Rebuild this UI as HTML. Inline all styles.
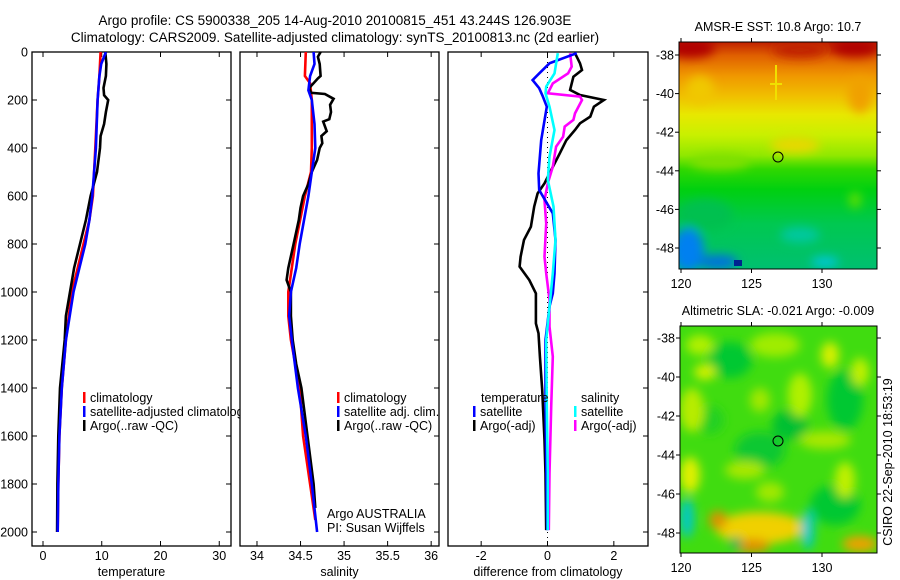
<!DOCTYPE html>
<html><head><meta charset="utf-8">
<style>
body{margin:0;background:#fff;}
svg{display:block;font-family:"Liberation Sans",sans-serif;}
</style></head>
<body>
<svg id="fig" width="900" height="580" viewBox="0 0 900 580">
<defs>
<clipPath id="c1"><rect x="32" y="52" width="208" height="494"/></clipPath>
<clipPath id="cp1"><rect x="32" y="52" width="199" height="494"/></clipPath>
<clipPath id="cp2"><rect x="240" y="52" width="199" height="494"/></clipPath>
<clipPath id="cp3"><rect x="448" y="52" width="200" height="494"/></clipPath>
<clipPath id="cm1"><rect x="679" y="42" width="198" height="227"/></clipPath>
<clipPath id="cm2"><rect x="680" y="326" width="197" height="227"/></clipPath>
<linearGradient id="sstg" x1="0" y1="42" x2="0" y2="269" gradientUnits="userSpaceOnUse">
<stop offset="0" stop-color="#c02000"/><stop offset="0.06" stop-color="#e06000"/>
<stop offset="0.15" stop-color="#f09800"/><stop offset="0.24" stop-color="#f0c000"/>
<stop offset="0.32" stop-color="#e8e800"/><stop offset="0.41" stop-color="#c8f000"/>
<stop offset="0.5" stop-color="#90e800"/><stop offset="0.56" stop-color="#30d800"/>
<stop offset="0.65" stop-color="#00d010"/><stop offset="0.8" stop-color="#00c850"/>
<stop offset="1" stop-color="#00c070"/>
</linearGradient>
<filter id="bl" x="-20%" y="-20%" width="140%" height="140%"><feGaussianBlur stdDeviation="5"/></filter>
</defs>

<text x="335" y="25" font-size="13.5" text-anchor="middle">Argo profile: CS 5900338_205 14-Aug-2010 20100815_451 43.244S 126.903E</text>
<text x="335" y="42" font-size="13.5" text-anchor="middle">Climatology: CARS2009. Satellite-adjusted climatology: synTS_20100813.nc (2d earlier)</text>

<g id="panels"></g>

<!-- SST map -->
<g>
<g clip-path="url(#cm1)">
<rect x="679" y="42" width="198" height="227" fill="url(#sstg)"/>
<g filter="url(#bl)">
<ellipse cx="690" cy="48" rx="25" ry="10" fill="#b00000"/>
<ellipse cx="855" cy="48" rx="25" ry="9" fill="#b00000"/>
<ellipse cx="800" cy="50" rx="28" ry="8" fill="#c02000"/>
<ellipse cx="860" cy="95" rx="12" ry="18" fill="#f0a000"/>
<ellipse cx="700" cy="90" rx="14" ry="14" fill="#f0c800"/>
<ellipse cx="795" cy="145" rx="25" ry="8" fill="#e8d800"/>
<ellipse cx="720" cy="162" rx="30" ry="8" fill="#80e000"/>
<ellipse cx="705" cy="215" rx="28" ry="16" fill="#00c050"/>
<ellipse cx="688" cy="250" rx="16" ry="22" fill="#0080f0"/>
<ellipse cx="718" cy="262" rx="20" ry="7" fill="#0070e0"/>
<ellipse cx="825" cy="262" rx="14" ry="5" fill="#00c8e0"/>
<ellipse cx="855" cy="200" rx="6" ry="8" fill="#60e000"/>
<ellipse cx="800" cy="235" rx="20" ry="8" fill="#00c8a0"/>
</g>
<rect x="734" y="260" width="8" height="6" fill="#000090" opacity="0.8"/>
<line x1="776" y1="65" x2="776" y2="100" stroke="#f0e000" stroke-width="2"/>
<line x1="770" y1="84" x2="782" y2="84" stroke="#f0e000" stroke-width="2"/>
</g>
<rect x="679" y="42" width="198" height="227" fill="none" stroke="#000" stroke-width="1"/>
<circle cx="778" cy="157" r="5" fill="none" stroke="#000"/>
<text x="778" y="31" font-size="12.5" text-anchor="middle">AMSR-E SST: 10.8 Argo: 10.7</text>
<g id="map1axes"></g>
</g>

<!-- SLA map -->
<g>
<g clip-path="url(#cm2)">
<rect x="680" y="326" width="197" height="227" fill="#40dc10"/>
<g filter="url(#bl)">
<ellipse cx="730" cy="360" rx="22" ry="18" fill="#00c830"/>
<ellipse cx="845" cy="400" rx="18" ry="30" fill="#00c830"/>
<ellipse cx="790" cy="425" rx="18" ry="15" fill="#00c030"/>
<ellipse cx="760" cy="450" rx="25" ry="18" fill="#10c830"/>
<ellipse cx="835" cy="505" rx="25" ry="20" fill="#00c830"/>
<ellipse cx="710" cy="420" rx="14" ry="14" fill="#20d020"/>
<ellipse cx="700" cy="345" rx="14" ry="10" fill="#b0f000"/>
<ellipse cx="775" cy="345" rx="25" ry="12" fill="#a0ec00"/>
<ellipse cx="830" cy="355" rx="9" ry="13" fill="#d8f000"/>
<ellipse cx="705" cy="372" rx="11" ry="8" fill="#d0f000"/>
<ellipse cx="860" cy="372" rx="9" ry="14" fill="#c0f000"/>
<ellipse cx="692" cy="410" rx="12" ry="22" fill="#b8ec00"/>
<ellipse cx="800" cy="395" rx="12" ry="22" fill="#b0f000"/>
<ellipse cx="760" cy="400" rx="10" ry="12" fill="#a0e800"/>
<ellipse cx="825" cy="440" rx="26" ry="9" fill="#a8e800"/>
<ellipse cx="690" cy="475" rx="10" ry="18" fill="#e0f000"/>
<ellipse cx="745" cy="470" rx="20" ry="9" fill="#a8e800"/>
<ellipse cx="845" cy="480" rx="10" ry="18" fill="#c0f000"/>
<ellipse cx="770" cy="492" rx="14" ry="10" fill="#a0e800"/>
<ellipse cx="760" cy="528" rx="45" ry="16" fill="#f0d000"/>
<ellipse cx="718" cy="520" rx="9" ry="9" fill="#e09000"/>
<ellipse cx="752" cy="546" rx="18" ry="7" fill="#e09000"/>
<ellipse cx="860" cy="544" rx="18" ry="8" fill="#f0a000"/>
<ellipse cx="687" cy="518" rx="7" ry="20" fill="#00c8c8"/>
<ellipse cx="808" cy="530" rx="6" ry="20" fill="#00c8d0"/>
<ellipse cx="736" cy="543" rx="6" ry="6" fill="#00b060"/>
</g>
</g>
<rect x="680" y="326" width="197" height="227" fill="none" stroke="#000" stroke-width="1"/>
<circle cx="778" cy="441" r="5" fill="none" stroke="#000"/>
<text x="778" y="315" font-size="12.5" text-anchor="middle">Altimetric SLA: -0.021 Argo: -0.009</text>
<g id="map2axes"></g>
</g>

<text transform="translate(892,462) rotate(-90)" font-size="12.5" text-anchor="middle">CSIRO 22-Sep-2010 18:53:19</text>

<script>
// depth axis shared
const depthTicks = [0,200,400,600,800,1000,1200,1400,1600,1800,2000];
// temperature panel data
const tempTicks = [0,10,20,30];
const tClimDepth = [0,50,100,200,400,600,700,800,900,1000,1200,1400,1600,1800,2000];
const tClim = [9.8,9.7,9.6,9.3,8.9,8.5,7.9,6.9,5.9,4.9,3.9,3.2,2.8,2.6,2.5];
const tSatDepth = [0,50,100,200,400,600,700,800,900,1000,1200,1400,1600,1800,2000];
const tSat = [10.7,9.9,9.6,9.3,9.0,8.4,7.9,7.2,6.2,5.2,3.9,3.2,2.8,2.6,2.5];
const tArgoDepth = [0,50,100,150,180,200,250,300,350,400,500,600,700,800,900,1000,1100,1200,1400,1600,1800,2000];
const tArgo = [10.6,10.8,10.7,10.3,10.4,11.1,10.7,10.4,9.8,9.7,9.2,8.1,7.3,6.3,5.3,4.6,3.9,3.7,2.9,2.6,2.45,2.4];
// salinity panel data
const salTicks = [34,34.5,35,35.5,36];
const sClimDepth = [0,100,130,200,400,500,600,800,900,1000,1100,1200,1400,1600,1800,1950];
const sClim = [34.56,34.55,34.61,34.63,34.63,34.62,34.55,34.44,34.40,34.36,34.36,34.39,34.49,34.53,34.61,34.67];
const sSatDepth = [0,50,100,160,200,300,400,500,600,800,900,1000,1100,1200,1400,1600,1800,2000];
const sSat = [34.65,34.66,34.61,34.59,34.63,34.66,34.67,34.63,34.59,34.49,34.45,34.39,34.37,34.40,34.47,34.56,34.63,34.69];
const sArgoDepth = [0,20,50,100,110,150,170,175,195,220,250,280,290,330,350,380,400,450,500,550,600,650,700,800,900,950,1000,1100,1200,1300,1400,1600,1800,1900];
const sArgo = [34.73,34.70,34.72,34.73,34.70,34.60,34.62,34.78,34.88,34.84,34.85,34.83,34.76,34.80,34.74,34.75,34.72,34.69,34.63,34.59,34.53,34.50,34.48,34.42,34.36,34.34,34.39,34.39,34.41,34.45,34.51,34.58,34.65,34.67];
// difference panel data
const diffTicks = [-2,0,2];
const dTSatDepth = [5,47,89,117,151,186,228,367,506,575,672,783,922,1006,1061,1200,1478,1894,1992];
const dTSat = [0.88,0.06,-0.25,-0.45,-0.25,-0.14,-0.02,-0.19,-0.27,-0.25,0.16,0.24,0.21,0.16,0.06,-0.06,-0.06,-0.02,-0.01];
const dTArgoDepth = [5,47,75,103,158,179,200,228,269,297,325,367,422,506,547,589,644,728,783,853,894,950,1006,1131,1172,1269,1408,1617,1756,1992];
const dTArgo = [0.83,0.98,1.04,0.78,0.68,0.98,1.70,1.40,1.29,0.98,0.83,0.57,0.37,0.06,-0.09,-0.30,-0.40,-0.50,-0.71,-0.81,-0.84,-0.55,-0.35,-0.35,-0.27,-0.23,-0.16,-0.09,-0.06,-0.04];
const dSSatDepth = [5,89,144,172,228,325,436,533,644,783,922,1061,1200,1478,1756,1992];
const dSSat = [0.31,0.21,-0.04,-0.06,0.06,0.21,0.06,0.01,0.18,0.24,0.16,0.06,-0.04,-0.02,0.01,0.01];
const dSArgoDepth = [5,61,89,131,172,186,200,256,283,311,353,394,478,547,617,714,853,922,1033,1144,1269,1478,1756,1992];
const dSArgo = [0.68,0.73,0.62,0.16,0.01,0.98,1.04,0.83,0.78,0.52,0.47,0.26,0.16,0.01,-0.09,-0.04,-0.09,-0.04,0.06,0.06,0.16,0.11,0.06,0.04];
// map axes
const lonTicks = [120,125,130];
const latTicks = [-38,-40,-42,-44,-46,-48];

const NS = 'http://www.w3.org/2000/svg';
const yD = d => 52 + d*0.24;
function mk(tag, attrs, parent){const e=document.createElementNS(NS,tag);for(const k in attrs)e.setAttribute(k,attrs[k]);parent.appendChild(e);return e;}
const root = document.getElementById('panels');

const panels = [
 {x0:32,x1:231,xmin:-1.87,xmax:32.0,ticks:tempTicks,label:'temperature',name:'temperature-panel',clip:'cp1',leftLabels:true},
 {x0:240,x1:439,xmin:33.805,xmax:36.09,ticks:salTicks,label:'salinity',name:'salinity-panel',clip:'cp2'},
 {x0:448,x1:648,xmin:-3.0,xmax:3.03,ticks:diffTicks,label:'difference from climatology',name:'difference-panel',clip:'cp3'}
];
panels.forEach(p=>{p.sx = v => p.x0 + (v-p.xmin)/(p.xmax-p.xmin)*(p.x1-p.x0);});

function drawLine(p, depths, vals, color, name){
  const pts = depths.map((d,i)=>p.sx(vals[i]).toFixed(1)+','+yD(d).toFixed(1)).join(' ');
  const e = mk('polyline',{points:pts,fill:'none',stroke:color,'stroke-width':2.6,'stroke-linejoin':'miter','clip-path':'url(#'+p.clip+')'},root);
  
  
}

panels.forEach((p,pi)=>{
  const g = mk('g',{},root);
  
  
  mk('rect',{x:p.x0,y:52,width:p.x1-p.x0,height:494,fill:'none',stroke:'#000','stroke-width':1.3},g);
  depthTicks.forEach(d=>{
    const y=yD(d);
    if(p.leftLabels){
      mk('line',{x1:p.x0,y1:y,x2:p.x0+5,y2:y,stroke:'#000'},g);
      const t=mk('text',{x:p.x0-4,y:y+4.5,'font-size':12.5,'text-anchor':'end'},g);
      t.textContent=d;
      
      
    }
    mk('line',{x1:p.x1,y1:y,x2:p.x1-5,y2:y,stroke:'#000'},g);
  });
  p.ticks.forEach(v=>{
    const x=p.sx(v);
    mk('line',{x1:x,y1:52,x2:x,y2:57,stroke:'#000'},g);
    mk('line',{x1:x,y1:546,x2:x,y2:541,stroke:'#000'},g);
    const t=mk('text',{x:x,y:560,'font-size':12.5,'text-anchor':'middle'},g);
    t.textContent=v;
    
    
  });
  const lab=mk('text',{x:(p.x0+p.x1)/2,y:576,'font-size':12.5,'text-anchor':'middle'},g);
  lab.textContent=p.label;
  
  
});

// zero line in difference panel
const zx = panels[2].sx(0);
const zl = mk('line',{x1:zx,y1:52,x2:zx,y2:546,stroke:'#000','stroke-dasharray':'1 4'},root);



drawLine(panels[0], tClimDepth, tClim, '#ff0000', 'temp-climatology-line');
drawLine(panels[0], tArgoDepth, tArgo, '#000000', 'temp-argo-line');
drawLine(panels[0], tSatDepth, tSat, '#0000ff', 'temp-satellite-line');
drawLine(panels[1], sClimDepth, sClim, '#ff0000', 'sal-climatology-line');
drawLine(panels[1], sArgoDepth, sArgo, '#000000', 'sal-argo-line');
drawLine(panels[1], sSatDepth, sSat, '#0000ff', 'sal-satellite-line');
drawLine(panels[2], dTArgoDepth, dTArgo, '#000000', 'diff-temp-argo-line');
drawLine(panels[2], dSArgoDepth, dSArgo, '#ff00ff', 'diff-sal-argo-line');
drawLine(panels[2], dTSatDepth, dTSat, '#0000ff', 'diff-temp-satellite-line');
drawLine(panels[2], dSSatDepth, dSSat, '#00ffff', 'diff-sal-satellite-line');

function legendEntry(x,y,color,text,clip){
  const g=mk('g',clip?{'clip-path':'url(#'+clip+')'}:{},root);
  
  
  if(color) mk('rect',{x:x,y:y-10,width:2.5,height:11,fill:color},g);
  const t=mk('text',{x:x+7,y:y,'font-size':12.5},g);
  t.textContent=text;
}
legendEntry(83,402,'#ff0000','climatology','c1');
legendEntry(83,416,'#0000ff','satellite-adjusted climatology','c1');
legendEntry(83,430,'#000000','Argo(..raw -QC)','c1');
legendEntry(337,402,'#ff0000','climatology');
legendEntry(337,416,'#0000ff','satellite adj. clim.');
legendEntry(337,430,'#000000','Argo(..raw -QC)');
legendEntry(474,402,null,'temperature');
legendEntry(473,416,'#0000ff','satellite');
legendEntry(473,430,'#000000','Argo(-adj)');
legendEntry(574,402,null,'salinity');
legendEntry(574,416,'#00ffff','satellite');
legendEntry(574,430,'#ff00ff','Argo(-adj)');
const a1=mk('text',{x:327,y:518,'font-size':12.5},root);a1.textContent='Argo AUSTRALIA';


const a2=mk('text',{x:327,y:532,'font-size':12.5},root);a2.textContent='PI: Susan Wijffels';



// map axes
function mapAxes(id, x0, x1, y0, y1, yLat38, pxPerDeg){
  const g=document.getElementById(id);
  const lonX = lon => 681 + (lon-120)*14.1;
  lonTicks.forEach(l=>{
    const x=lonX(l);
    mk('line',{x1:x,y1:y0,x2:x,y2:y0-4,stroke:'#000'},g);
    mk('line',{x1:x,y1:y1,x2:x,y2:y1+4,stroke:'#000'},g);
    const t=mk('text',{x:x,y:y1+19,'font-size':12.5,'text-anchor':'middle'},g);
    t.textContent=l;
    
    
  });
  latTicks.forEach(l=>{
    const y=yLat38 + (-38-l)*pxPerDeg;
    mk('line',{x1:x0,y1:y,x2:x0-4,y2:y,stroke:'#000'},g);
    mk('line',{x1:x1,y1:y,x2:x1+4,y2:y,stroke:'#000'},g);
    const t=mk('text',{x:x0-5,y:y+4.5,'font-size':12.5,'text-anchor':'end'},g);
    t.textContent=l;
    
    
  });
}
mapAxes('map1axes',679,877,42,269,55,19.3);
mapAxes('map2axes',680,877,326,553,338,19.5);
</script>
</svg>
</body></html>
